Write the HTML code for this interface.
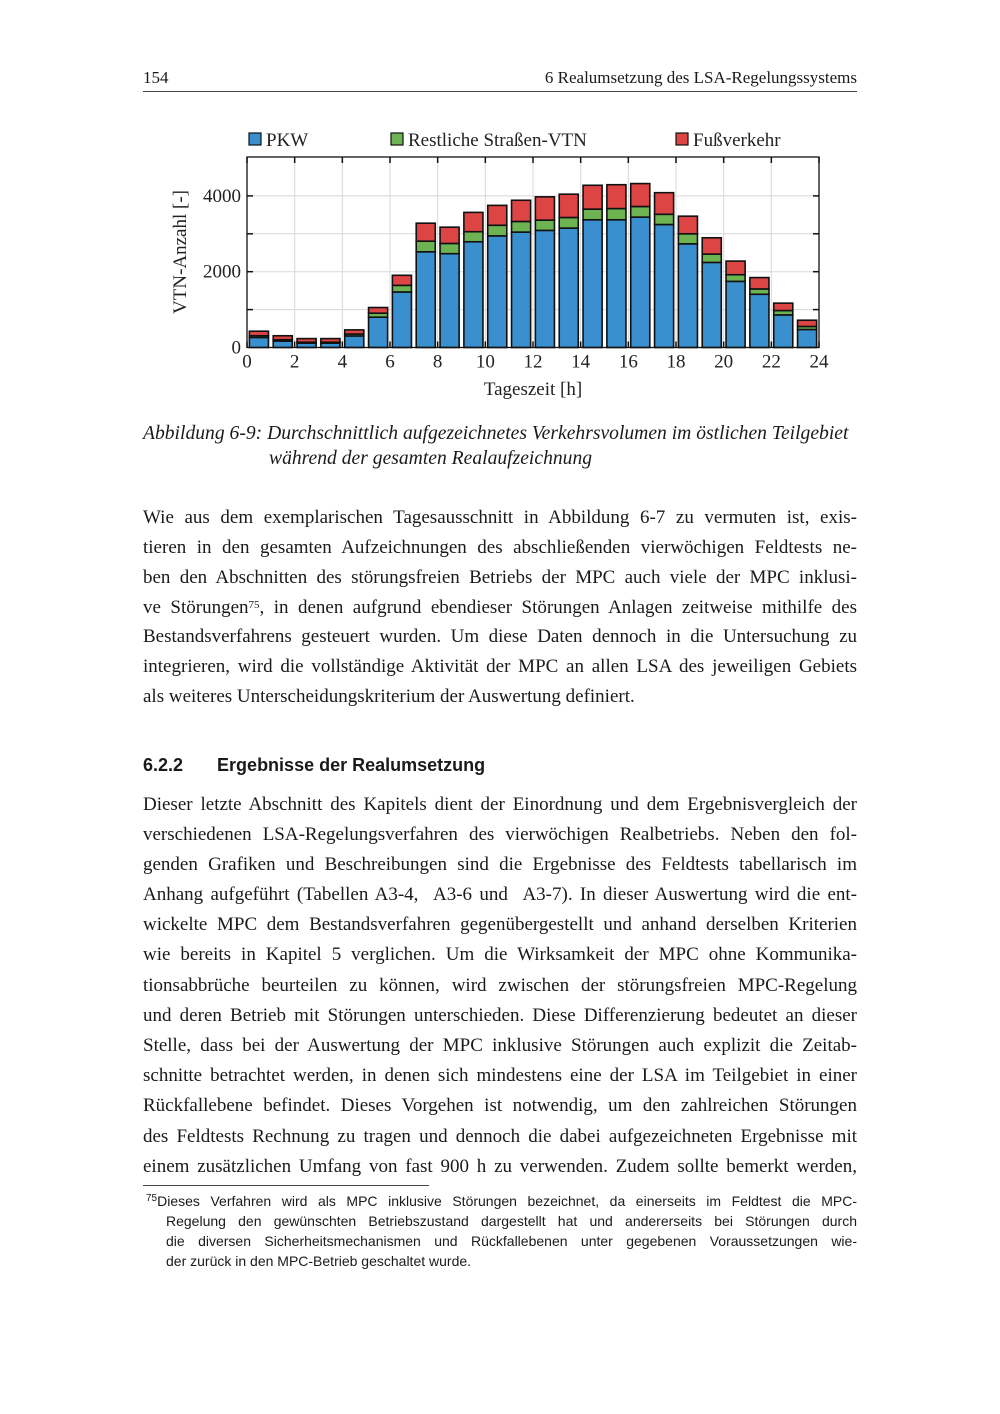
<!DOCTYPE html>
<html><head><meta charset="utf-8"><style>
body{margin:0;background:#fff;}
#page{position:relative;width:1000px;height:1414px;background:#fff;font-family:"Liberation Serif",serif;color:#1a1a1a;overflow:hidden;}
.l{position:absolute;left:143px;width:714px;font-size:19px;line-height:22px;text-align:justify;text-align-last:justify;white-space:nowrap;}
.l.last{text-align-last:left;}
.f{position:absolute;left:166px;width:691px;font-family:"Liberation Sans",sans-serif;font-size:14px;line-height:18px;text-align:justify;text-align-last:justify;white-space:nowrap;}
.f.last{text-align-last:left;}
.cap{position:absolute;font-style:italic;font-size:19.6px;white-space:nowrap;}
sup{line-height:0;vertical-align:baseline;position:relative;top:-0.5em;}
</style></head><body>
<div id="page">
<div style="position:absolute;left:143px;top:68px;font-size:17px;">154</div>
<div style="position:absolute;right:143px;top:68px;font-size:17px;">6 Realumsetzung des LSA-Regelungssystems</div>
<div style="position:absolute;left:143px;top:91px;width:714px;height:1px;background:#444;"></div>

<svg id="chart" width="1000" height="410" style="position:absolute;left:0;top:0;" font-family="Liberation Serif, serif"></svg>

<div class="cap" style="left:143px;top:423px;">Abbildung 6-9: Durchschnittlich aufgezeichnetes Verkehrsvolumen im östlichen Teilgebiet</div>
<div class="cap" style="left:269px;top:448px;">während der gesamten Realaufzeichnung</div>

<div>
<div class="l" style="top:507px">Wie aus dem exemplarischen Tagesausschnitt in Abbildung 6-7 zu vermuten ist, exis-</div>
<div class="l" style="top:537px">tieren in den gesamten Aufzeichnungen des abschließenden vierwöchigen Feldtests ne-</div>
<div class="l" style="top:567px">ben den Abschnitten des störungsfreien Betriebs der MPC auch viele der MPC inklusi-</div>
<div class="l" style="top:597px">ve Störungen<sup style="font-size:11px">75</sup>, in denen aufgrund ebendieser Störungen Anlagen zeitweise mithilfe des</div>
<div class="l" style="top:626px">Bestandsverfahrens gesteuert wurden. Um diese Daten dennoch in die Untersuchung zu</div>
<div class="l" style="top:656px">integrieren, wird die vollständige Aktivität der MPC an allen LSA des jeweiligen Gebiets</div>
<div class="l last" style="top:686px">als weiteres Unterscheidungskriterium der Auswertung definiert.</div>
</div>

<div style="position:absolute;left:143px;top:755px;font-family:'Liberation Sans',sans-serif;font-weight:bold;font-size:18px;">6.2.2<span style="margin-left:34px">Ergebnisse der Realumsetzung</span></div>

<div>
<div class="l" style="top:794px">Dieser letzte Abschnitt des Kapitels dient der Einordnung und dem Ergebnisvergleich der</div>
<div class="l" style="top:824px">verschiedenen LSA-Regelungsverfahren des vierwöchigen Realbetriebs. Neben den fol-</div>
<div class="l" style="top:854px">genden Grafiken und Beschreibungen sind die Ergebnisse des Feldtests tabellarisch im</div>
<div class="l" style="top:884px">Anhang aufgeführt (Tabellen A3-4, &nbsp;A3-6 und &nbsp;A3-7). In dieser Auswertung wird die ent-</div>
<div class="l" style="top:914px">wickelte MPC dem Bestandsverfahren gegenübergestellt und anhand derselben Kriterien</div>
<div class="l" style="top:944px">wie bereits in Kapitel 5 verglichen. Um die Wirksamkeit der MPC ohne Kommunika-</div>
<div class="l" style="top:975px">tionsabbrüche beurteilen zu können, wird zwischen der störungsfreien MPC-Regelung</div>
<div class="l" style="top:1005px">und deren Betrieb mit Störungen unterschieden. Diese Differenzierung bedeutet an dieser</div>
<div class="l" style="top:1035px">Stelle, dass bei der Auswertung der MPC inklusive Störungen auch explizit die Zeitab-</div>
<div class="l" style="top:1065px">schnitte betrachtet werden, in denen sich mindestens eine der LSA im Teilgebiet in einer</div>
<div class="l" style="top:1095px">Rückfallebene befindet. Dieses Vorgehen ist notwendig, um den zahlreichen Störungen</div>
<div class="l" style="top:1126px">des Feldtests Rechnung zu tragen und dennoch die dabei aufgezeichneten Ergebnisse mit</div>
<div class="l" style="top:1156px">einem zusätzlichen Umfang von fast 900 h zu verwenden. Zudem sollte bemerkt werden,</div>
</div>

<div style="position:absolute;left:143px;top:1185px;width:286px;height:1px;background:#444;"></div>
<div>
<div class="f" style="top:1192px;left:146px;width:711px"><sup style="font-size:10px">75</sup>Dieses Verfahren wird als MPC inklusive Störungen bezeichnet, da einerseits im Feldtest die MPC-</div>
<div class="f" style="top:1212px">Regelung den gewünschten Betriebszustand dargestellt hat und andererseits bei Störungen durch</div>
<div class="f" style="top:1232px">die diversen Sicherheitsmechanismen und Rückfallebenen unter gegebenen Voraussetzungen wie-</div>
<div class="f last" style="top:1252px">der zurück in den MPC-Betrieb geschaltet wurde.</div>
</div>
</div>
<script>
const hours=[0,1,2,3,4,5,6,7,8,9,10,11,12,13,14,15,16,17,18,19,20,21,22,23];
const pkw=[265,170,115,115,305,800,1465,2525,2475,2790,2945,3045,3090,3150,3370,3370,3440,3245,2735,2245,1745,1405,860,475];
const rest=[45,35,25,25,50,105,175,280,270,265,280,280,270,280,280,295,280,270,265,220,175,140,115,80];
const fuss=[120,105,95,95,110,150,265,475,430,510,525,560,615,615,630,630,605,570,465,430,360,300,195,165];
const xTicks=[0,2,4,6,8,10,12,14,16,18,20,22,24];
const yTicks=[0,2000,4000];
const yGrid=[1000,2000,3000,4000];
const series=[{name:'PKW',vals:pkw,color:'#3a8fcf'},{name:'Restliche Straßen-VTN',vals:rest,color:'#6db352'},{name:'Fußverkehr',vals:fuss,color:'#dd4444'}];
const X0=247,X1=819,Y0=347.5,YT=157,xMax=24,yPerK=37.9;
const xs=v=>X0+(X1-X0)*v/xMax;
const ys=v=>Y0-v*yPerK/1000;
const svg=document.getElementById('chart');
const NS='http://www.w3.org/2000/svg';
function mk(t,a){const e=document.createElementNS(NS,t);for(const k in a)e.setAttribute(k,a[k]);svg.appendChild(e);return e;}
xTicks.forEach(t=>{if(t>0&&t<24){const g=mk('line',{x1:xs(t),x2:xs(t),y1:YT,y2:Y0,stroke:'#d8d8d8','stroke-width':1});

}});
yGrid.forEach(t=>{const g=mk('line',{x1:X0,x2:X1,y1:ys(t),y2:ys(t),stroke:'#d8d8d8','stroke-width':1});

});
const bw=(X1-X0)/xMax*0.8;
hours.forEach((h,i)=>{let base=0;series.forEach(s=>{const v=s.vals[i];const r=mk('rect',{x:xs(h+0.5)-bw/2,y:ys(base+v),width:bw,height:ys(base)-ys(base+v),fill:s.color,stroke:'#111','stroke-width':1.6});


base+=v;});});
const fr=mk('rect',{x:X0,y:YT,width:X1-X0,height:Y0-YT,fill:'none',stroke:'#111','stroke-width':1.3});


xTicks.forEach(t=>{mk('line',{x1:xs(t),x2:xs(t),y1:YT,y2:YT+6,stroke:'#111','stroke-width':1.5});mk('line',{x1:xs(t),x2:xs(t),y1:Y0,y2:Y0-6,stroke:'#111','stroke-width':1.5});
const tx=mk('text',{x:xs(t),y:Y0+20,'text-anchor':'middle','font-size':19,fill:'#222'});tx.textContent=t;

});
yGrid.forEach(t=>{mk('line',{x1:X0,x2:X0+6,y1:ys(t),y2:ys(t),stroke:'#111','stroke-width':1.5});mk('line',{x1:X1,x2:X1-6,y1:ys(t),y2:ys(t),stroke:'#111','stroke-width':1.5});});
yTicks.forEach(t=>{const tx=mk('text',{x:X0-6,y:ys(t)+6,'text-anchor':'end','font-size':19,fill:'#222'});tx.textContent=t;

});
const xt=mk('text',{x:(X0+X1)/2,y:395,'text-anchor':'middle','font-size':19,fill:'#222'});xt.textContent='Tageszeit [h]';


const yt=mk('text',{x:0,y:0,'text-anchor':'middle','font-size':19,fill:'#222',transform:'translate(186,252) rotate(-90)'});yt.textContent='VTN-Anzahl [-]';


const lx=[249,391,676];
series.forEach((s,i)=>{const r=mk('rect',{x:lx[i],y:133,width:12,height:12,fill:s.color,stroke:'#111','stroke-width':1.2});


const t=mk('text',{x:lx[i]+17,y:146,'font-size':19,fill:'#222'});t.textContent=s.name;

});
</script>
</body></html>
